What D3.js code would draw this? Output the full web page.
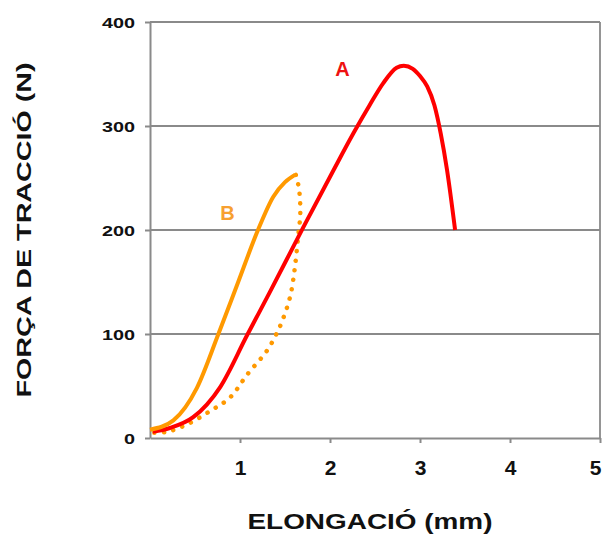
<!DOCTYPE html>
<html><head><meta charset="utf-8">
<script src="https://cdn.jsdelivr.net/npm/d3@7"></script>
<style>body{margin:0;background:#fff}svg{display:block}</style>
</head><body>
<script>
const xTicks = [1, 2, 3, 4, 5];
const yTicks = [0, 100, 200, 300, 400];
const curveA = [[0.03,6],[0.22,9.6],[0.48,20],[0.78,49],[1.08,99],[1.33,140],[1.70,202],[2.03,256],[2.26,293],[2.44,320],[2.59,341],[2.74,356],[2.82,358],[2.92,355],[3.0,348],[3.08,338],[3.16,320],[3.23,293],[3.3,258],[3.39,200]];
const curveB = [[0,8],[0.26,17],[0.52,48],[0.76,100],[0.98,150],[1.2,200],[1.37,232],[1.5,246],[1.61,253]];
const curveBdot = [[1.62,253],[1.655,240],[1.67,216],[1.645,193],[1.61,164],[1.56,137],[1.48,115],[1.41,101],[1.3,84],[1.08,61],[0.89,39],[0.67,26],[0.41,13],[0.19,6],[0.03,5]];
const labels = [{t:"A", x:2.14, y:355, c:"#ee1111"},{t:"B", x:0.86, y:216, c:"#f7a030"}];

const W=606,H=538;
const svg=d3.select("body").append("svg").attr("width",W).attr("height",H);
const x=d3.scaleLinear().domain([0,5]).range([150,600]);
const y=d3.scaleLinear().domain([0,400]).range([438,22]);
const grey="#8a8a8a";

svg.selectAll("line.g").data(yTicks.filter(d=>d>0)).join("line")
  .attr("x1",x(0)).attr("x2",x(5)).attr("y1",d=>y(d)).attr("y2",d=>y(d))
  .attr("stroke",grey).attr("stroke-width",1.8);
svg.append("line").attr("x1",x(5)).attr("x2",x(5)).attr("y1",y(0)).attr("y2",y(400)).attr("stroke",grey).attr("stroke-width",1.8);

const ax=svg.append("g").attr("transform",`translate(0,${y(0)})`)
  .call(d3.axisBottom(x).tickValues(xTicks).tickSize(5).tickSizeOuter(0).tickFormat(d3.format("d")));
ax.select(".domain").attr("stroke",grey).attr("stroke-width",2);
ax.selectAll(".tick line").attr("stroke",grey).attr("stroke-width",2);
ax.selectAll("text").attr("font-family","Liberation Sans, Arial, sans-serif").attr("font-weight","bold")
  .attr("font-size",21).attr("fill","#111").attr("dy",null).attr("y",37);
ax.selectAll(".tick").filter(d=>d===5).select("text").attr("x",-5);

const ay=svg.append("g").attr("transform",`translate(${x(0)},0)`)
  .call(d3.axisLeft(y).tickValues(yTicks).tickSize(5).tickSizeOuter(0).tickFormat(d3.format("d")));
ay.select(".domain").attr("stroke",grey).attr("stroke-width",2);
ay.selectAll(".tick line").attr("stroke",grey).attr("stroke-width",2);
ay.selectAll("text").attr("font-family","Liberation Sans, Arial, sans-serif").attr("font-weight","bold")
  .attr("font-size",15).attr("fill","#111").attr("x",-15).attr("dy","0.35em")
  .attr("textLength",d=>String(d).length*11).attr("lengthAdjust","spacingAndGlyphs");

const lineM=d3.line().x(d=>x(d[0])).y(d=>y(d[1])).curve(d3.curveMonotoneX);
const lineC=d3.line().x(d=>x(d[0])).y(d=>y(d[1])).curve(d3.curveCatmullRom.alpha(0.5));
svg.append("path").attr("d",lineC(curveBdot)).attr("fill","none").attr("stroke","#ff9900")
  .attr("stroke-width",4.5).attr("stroke-linecap","round").attr("stroke-dasharray","0.1,9.5");
svg.append("path").attr("d",lineM(curveA)).attr("fill","none").attr("stroke","#ff0000").attr("stroke-width",4);
svg.append("path").attr("d",lineM(curveB)).attr("fill","none").attr("stroke","#ff9900").attr("stroke-width",4);

svg.selectAll("text.lab").data(labels).join("text").attr("class","lab")
  .attr("x",d=>x(d.x)).attr("y",d=>y(d.y)).attr("text-anchor","middle").attr("dy","0.35em")
  .attr("font-family","Liberation Sans, Arial, sans-serif").attr("font-weight","bold").attr("font-size",20)
  .attr("fill",d=>d.c).text(d=>d.t);

svg.append("text").attr("x",370).attr("y",529).attr("text-anchor","middle")
  .attr("font-family","Liberation Sans, Arial, sans-serif").attr("font-weight","bold").attr("font-size",22)
  .attr("fill","#111").attr("textLength",245).attr("lengthAdjust","spacingAndGlyphs").text("ELONGACIÓ (mm)");
svg.append("text").attr("transform","translate(31,230) rotate(-90)").attr("text-anchor","middle")
  .attr("font-family","Liberation Sans, Arial, sans-serif").attr("font-weight","bold").attr("font-size",21)
  .attr("fill","#111").attr("textLength",335).attr("lengthAdjust","spacingAndGlyphs").text("FORÇA DE TRACCIÓ (N)");
</script>
</body></html>
